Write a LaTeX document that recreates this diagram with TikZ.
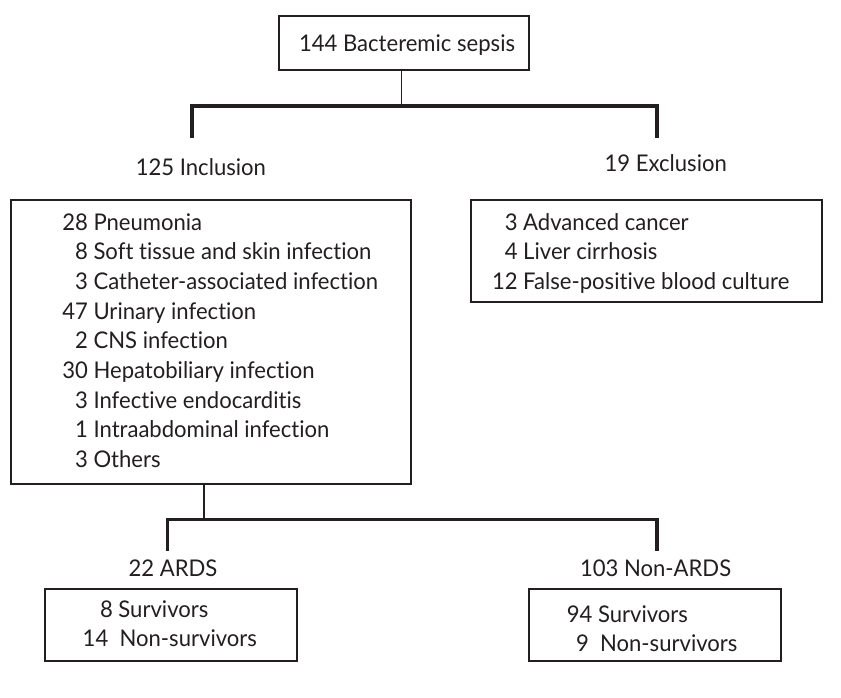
\documentclass[tikz,border=0pt]{standalone}
\usepackage{fontspec}
\setmainfont{Lato}[FakeStretch=0.96, Ligatures=NoCommon]
\definecolor{ink}{HTML}{231F20}
\tikzset{
  boxnode/.style={draw=ink, line width=2pt, inner sep=0pt, outer sep=0pt},
  txt/.style={inner sep=0pt, outer sep=0pt, text=ink, font=\fontsize{23}{29.7}\selectfont},
  stem/.style={draw=ink, line width=1.3pt},
  bracket/.style={draw=ink, line width=3.4pt, line join=miter, line cap=butt},
}
\begin{document}
\begin{tikzpicture}[x=1pt, y=-1pt]
\fill[white] (0,0) rectangle (841,697);
\useasboundingbox (0,0) rectangle (841,697);

% boxes
\node[boxnode, minimum width=250pt, minimum height=54pt] (top) at (404,43) {};
\node[boxnode, minimum width=400pt, minimum height=284pt] (incl) at (211,342) {};
\node[boxnode, minimum width=351pt, minimum height=102pt] (excl) at (646.5,251) {};
\node[boxnode, minimum width=251.7pt, minimum height=72pt] (ards) at (170.85,625) {};
\node[boxnode, minimum width=252pt, minimum height=72pt] (nards) at (655,625) {};

% texts
\node[txt, anchor=base west] (toptxt) at (299,51.7) {144 Bacteremic sepsis};
\node[txt, anchor=base east] (incllab) at (266,175.7) {125 Inclusion};
\node[txt, anchor=base west] (excllab) at (604.6,171.7) {19 Exclusion};

\node[txt, anchor=base west] (incltxt) at (62.3,230) {\begin{tabular}[t]{@{}r@{\ }l@{}}
28 & Pneumonia\\
8 & Soft tissue and skin infection\\
3 & Catheter-associated infection\\
47 & Urinary infection\\
2 & CNS infection\\
30 & Hepatobiliary infection\\
3 & Infective endocarditis\\
1 & Intraabdominal infection\\
3 & Others
\end{tabular}};

\node[txt, anchor=base west] (excltxt) at (492,230) {\begin{tabular}[t]{@{}r@{\ }l@{}}
3 & Advanced cancer\\
4 & Liver cirrhosis\\
12 & False-positive blood culture
\end{tabular}};

\node[txt, anchor=base west] (ardslab) at (128.6,576) {22 ARDS};
\node[txt, anchor=base west] (nardslab) at (580,576) {103 Non-ARDS};

\node[txt, anchor=base west] (a1) at (100,617.7) {8 Survivors};
\node[txt, anchor=base west] (a2) at (82.7,646.7) {14\ \ Non-survivors};
\node[txt, anchor=base west] (n1) at (566.8,622.7) {94 Survivors};
\node[txt, anchor=base west] (n2) at (576,651.7) {9\ \ Non-survivors};

% upper connector
\coordinate (j1) at (401.5,106);
\coordinate (bl) at (192,137.5);
\coordinate (br) at (657,137.5);
\draw[stem] (j1 |- top.south) -- (j1);
\draw[bracket] (bl) -- (bl |- j1) -- (br |- j1) -- (br);

% lower connector
\coordinate (j2) at (204,519.3);
\coordinate (cl) at (167.5,551);
\coordinate (cr) at (657,551);
\draw[stem] (j2 |- incl.south) -- (j2);
\draw[bracket] (cl) -- (cl |- j2) -- (cr |- j2) -- (cr);
\end{tikzpicture}
\end{document}
